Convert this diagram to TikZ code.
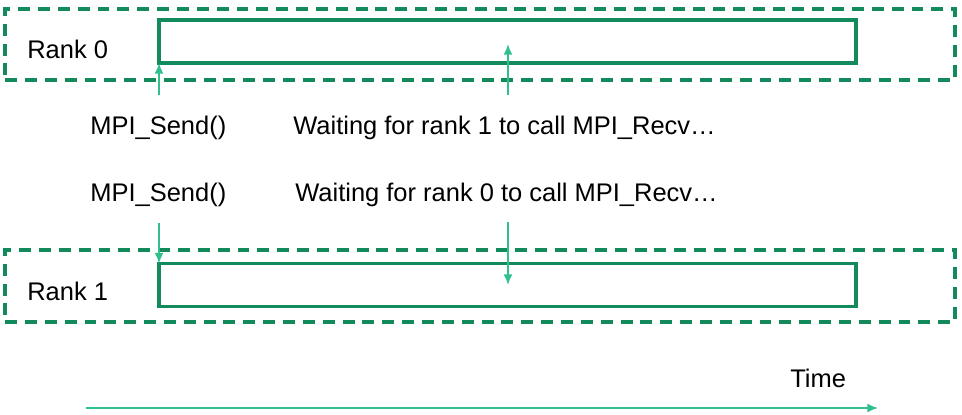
\documentclass[tikz,border=0pt]{standalone}
\usepackage{fontspec}
\setmainfont{Liberation Sans}
\usepackage{xcolor}
\usetikzlibrary{arrows.meta}
\definecolor{rankgreen}{RGB}{18,138,92}
\definecolor{callgreen}{RGB}{48,192,140}

\begin{document}
\begin{tikzpicture}[x=0.02cm, y=-0.02cm,
    lbl/.style={anchor=west, inner sep=0pt, font=\fontsize{14.5}{17}\selectfont},
    rankbox/.style={draw=rankgreen, line width=2.1pt, dash pattern=on 6.8pt off 4.5pt,
        inner sep=0pt, outer sep=0pt, minimum width=19cm},
    bar/.style={draw=rankgreen, line width=1.8pt, inner sep=0pt, outer sep=0pt,
        minimum width=13.94cm, minimum height=0.86cm},
    call/.style={draw=callgreen, line width=1pt, -{Latex[length=6pt,width=5pt]}}]
    \useasboundingbox (0,0) rectangle (962,415);
    % Rank 0
    \node[rankbox, minimum height=1.42cm] (rank0) at (480,44.5) {};
    \node[bar] (bar0) at (507.5,41.5) {};
    \node[lbl] (r0) at (27,49) {Rank 0};
    % Rank 1
    \node[rankbox, minimum height=1.44cm] (rank1) at (480,286) {};
    \node[bar] (bar1) at (507.5,285) {};
    \node[lbl] (r1) at (27,291) {Rank 1};
    % Calls
    \node[lbl] (send0) at (90,128) {MPI\_Send()};
    \node[lbl] (wait0) at (293,128) {Waiting for rank 1 to call MPI\_Recv…};
    \node[lbl] (send1) at (90,195) {MPI\_Send()};
    \node[lbl] (wait1) at (295,195) {Waiting for rank 0 to call MPI\_Recv…};
    \coordinate (s0) at (159,95);
    \coordinate (w0) at (508,95);
    \coordinate (w0tip) at (508,44);
    \coordinate (s1) at (159,223);
    \coordinate (w1) at (508,222);
    \draw[call] (s0) -- (bar0.south west);
    \draw[call] (w0) -- (w0tip);
    \draw[call] (s1) -- (bar1.north west);
    \draw[call] (w1) -- (w1 |- bar1.center);
    % Time axis
    \node[lbl] (time) at (790,378) {Time};
    \coordinate (t0) at (86,408);
    \coordinate (t1) at (878,408);
    \draw[call] (t0) -- (t1);
\end{tikzpicture}
\end{document}
